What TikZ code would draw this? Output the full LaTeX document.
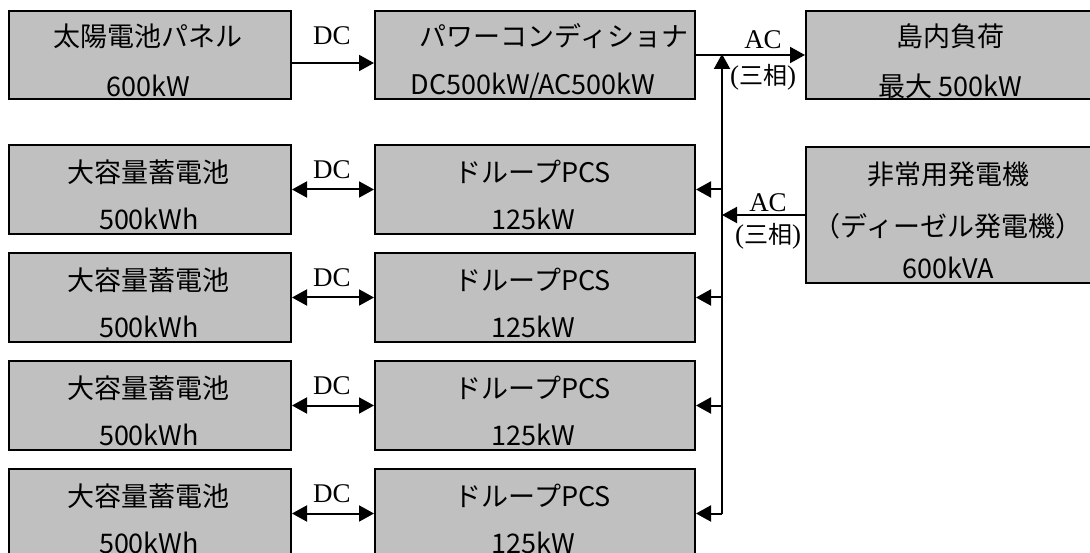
\documentclass[tikz,border=0pt]{standalone}
\usepackage{fontspec}
\newfontfamily\jpfont{Noto Sans CJK JP}
\newfontfamily\lblfont{Liberation Serif}
\usetikzlibrary{arrows.meta}
\definecolor{boxgray}{RGB}{192,192,192}
\begin{document}
\begin{tikzpicture}[x=1pt,y=-1pt,
    box/.style={draw,line width=2pt,fill=boxgray,inner sep=0pt,anchor=north west},
    txt/.style={font=\jpfont\fontsize{27}{32}\selectfont,inner sep=0pt},
    lbl/.style={font=\lblfont\fontsize{27}{32}\selectfont,inner sep=0pt},
    arr/.style={line width=2pt,-{Triangle[length=15pt,width=16pt]}},
    darr/.style={line width=2pt,{Triangle[length=15pt,width=16pt]}-{Triangle[length=15pt,width=16pt]}}]
    \useasboundingbox (0,0) rectangle (1090,553);
    \clip (0,0) rectangle (1090,553);
    \node (pv) at (8,10) [box,minimum width=282pt,minimum height=88pt] {};
    \node (pvname) at (148,36) [txt] {太陽電池パネル};
    \node (pvcap) at (148,86) [txt] {600kW};
    \node (pcon) at (374,10) [box,minimum width=320pt,minimum height=88pt] {};
    \node (pconname) at (554,36) [txt] {パワーコンディショナ};
    \node (pconcap) at (533,86) [txt] {DC500kW/AC500kW};
    \node (load) at (805,10) [box,minimum width=287pt,minimum height=88pt] {};
    \node (loadname) at (950,36) [txt] {島内負荷};
    \node (loadcap) at (950,86) [txt] {最大 500kW};
    \node (gen) at (805,146) [box,minimum width=287pt,minimum height=136pt] {};
    \node (genname) at (948,174) [txt] {非常用発電機};
    \node (gentype) at (948,226) [txt] {（ディーゼル発電機）};
    \node (gencap) at (948,268) [txt] {600kVA};
    \coordinate (bus) at (722,54);
    \draw [arr] ([yshift=-8pt]pv.east) -- ([yshift=-8pt]pcon.west);
    \node (pvdc) at (332,36) [lbl] {DC};
    \draw [arr] (pcon.east) -- (load.west);
    \node (loadac) at (763,40) [lbl] {AC};
    \node (loadph) at (763,77) [lbl] {({\jpfont\fontsize{24}{28}\selectfont 三相})};
    \foreach \y/\n in {144/a,252/b,360/c,468/d} {
        \node (bat\n) at (8,\y) [box,minimum width=282pt,minimum height=89pt] {};
        \node (batname\n) at (148,\y+28) [txt] {大容量蓄電池};
        \node (batcap\n) at (149,\y+75) [txt] {500kWh};
        \node (pcs\n) at (374,\y) [box,minimum width=320pt,minimum height=89pt] {};
        \node (pcsname\n) at (533,\y+28) [txt] {ドループPCS};
        \node (pcscap\n) at (533,\y+75) [txt] {125kW};
        \draw [darr] (bat\n.east) -- (pcs\n.west);
        \node (dc\n) at (332,\y+26) [lbl] {DC};
        \draw [arr] (pcs\n.east -| bus) -- (pcs\n.east);
    }
    \draw [arr] (pcsd.east -| bus) -- (bus);
    \draw [arr] (gen.west) -- (gen.west -| bus);
    \node (genac) at (768,203) [lbl] {AC};
    \node (genph) at (768,236) [lbl] {({\jpfont\fontsize{24}{28}\selectfont 三相})};
\end{tikzpicture}
\end{document}
